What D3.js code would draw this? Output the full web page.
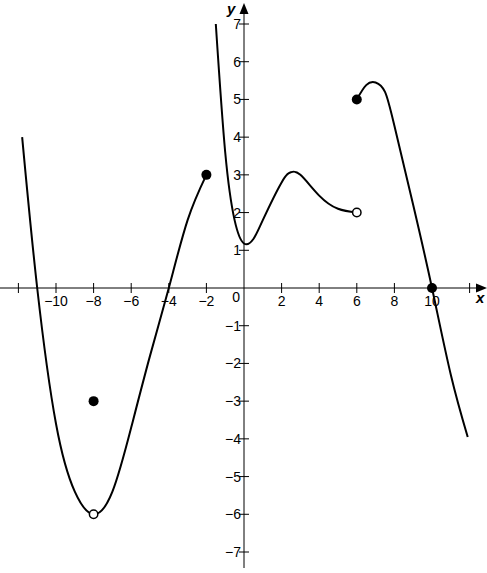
<!DOCTYPE html>
<html><head><meta charset="utf-8">
<script src="https://cdn.jsdelivr.net/npm/d3@7"></script>
<style>body{margin:0;background:#fff}text{font-family:"Liberation Sans",Arial,sans-serif}</style>
</head><body><svg id="c" width="487" height="573"></svg>
<script>
// curve pieces
const pieceA = [[-11.8,4],[-11,0],[-10,-3.6],[-9,-5.4],[-8,-6],[-7,-5.4],[-6,-3.7],[-5,-1.8],[-4,0],[-3,1.8],[-2,3]];
const pieceB = [[-1.5,7],[-1,3.6],[-0.5,1.8],[0,1.18],[0.5,1.3],[1,1.8],[2,2.8],[2.5,3.07],[3,3.0],[4,2.45],[5,2.1],[6,2]];
const pieceC = [[6,5],[6.5,5.38],[7,5.45],[7.5,5.2],[8,4.3],[9,2.2],[10,0],[11,-2.3],[11.9,-3.95]];
const filledPts = [[-8,-3],[-2,3],[6,5],[10,0]];
const openPts = [[-8,-6],[6,2]];
const xTicks = [-12,-10,-8,-6,-4,-2,2,4,6,8,10,12];
const xLabels = [-10,-8,-6,-4,-2,2,4,6,8,10];
const yTicks = [-7,-6,-5,-4,-3,-2,-1,1,2,3,4,5,6,7];

const svg = d3.select("#c");
const x = d3.scaleLinear().domain([0,10]).range([244,432]);
const y = d3.scaleLinear().domain([0,7]).range([288,24]);
const fmt = d => d < 0 ? "\u2212" + Math.abs(d) : d;

// axes
svg.append("line").attr("x1",0).attr("x2",478).attr("y1",y(0)).attr("y2",y(0)).attr("stroke","#000");
svg.append("path").attr("d",`M487,${y(0)} l-11,-4.5 l0,9 z`);
svg.append("line").attr("x1",x(0)).attr("x2",x(0)).attr("y1",568).attr("y2",12).attr("stroke","#000");
svg.append("path").attr("d",`M${x(0)},3 l-4.5,11 l9,0 z`);
svg.append("text").attr("x",476).attr("y",303).attr("font-style","italic").attr("font-weight","bold").attr("font-size",15).text("x");
svg.append("text").attr("x",227).attr("y",14).attr("font-style","italic").attr("font-weight","bold").attr("font-size",15).text("y");

svg.selectAll(".xt").data(xTicks).enter().append("line")
  .attr("x1",d=>x(d)).attr("x2",d=>x(d)).attr("y1",y(0)-5).attr("y2",y(0)+5).attr("stroke","#000");
svg.selectAll(".xl").data(xLabels).enter().append("text")
  .attr("x",d=>x(d)).attr("y",y(0)+18).attr("text-anchor","middle").attr("font-size",14).text(fmt);
svg.append("text").attr("x",x(0)-4).attr("y",y(0)+14).attr("text-anchor","end").attr("font-size",14).text("0");
svg.selectAll(".yt").data(yTicks).enter().append("line")
  .attr("y1",d=>y(d)).attr("y2",d=>y(d)).attr("x1",x(0)-5).attr("x2",x(0)+5).attr("stroke","#000");
svg.selectAll(".yl").data(yTicks).enter().append("text")
  .attr("x",x(0)-3).attr("y",d=>y(d)+5).attr("text-anchor","end").attr("font-size",14).text(fmt);

const line = d3.line().x(d=>x(d[0])).y(d=>y(d[1])).curve(d3.curveNatural);
[pieceA,pieceB,pieceC].forEach(p => svg.append("path").attr("d",line(p))
  .attr("fill","none").attr("stroke","#000").attr("stroke-width",2));

svg.selectAll(".fp").data(filledPts).enter().append("circle")
  .attr("cx",d=>x(d[0])).attr("cy",d=>y(d[1])).attr("r",5).attr("fill","#000");
svg.selectAll(".op").data(openPts).enter().append("circle")
  .attr("cx",d=>x(d[0])).attr("cy",d=>y(d[1])).attr("r",4.2).attr("fill","#fff").attr("stroke","#000").attr("stroke-width",1.5);
</script></body></html>
